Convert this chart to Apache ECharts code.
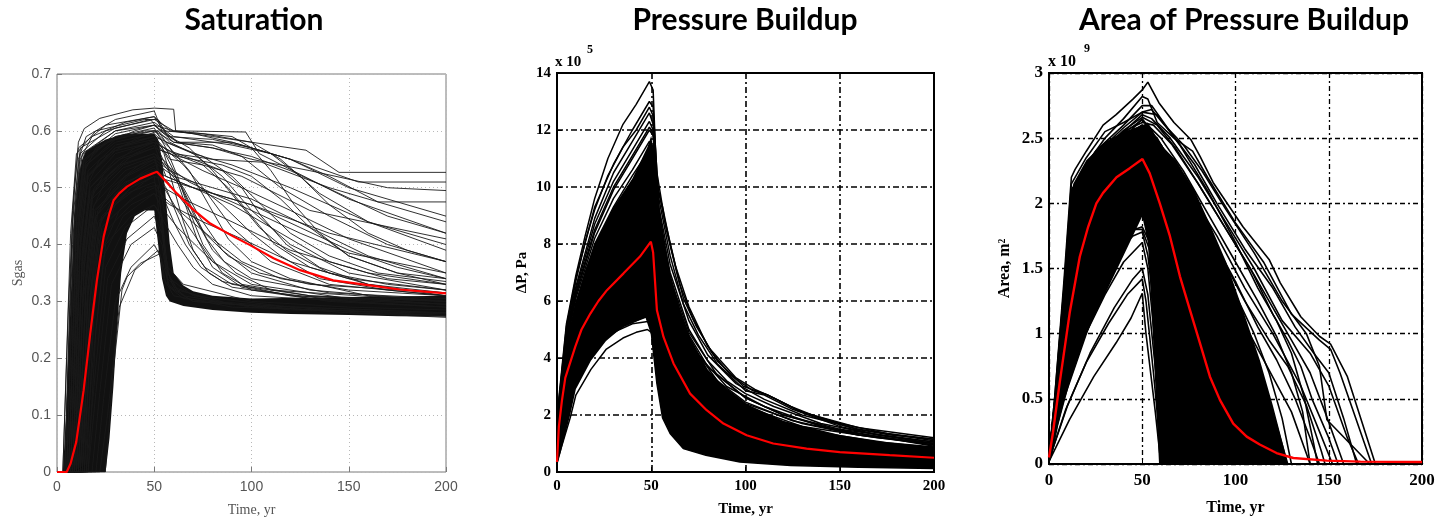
<!DOCTYPE html>
<html>
<head>
<meta charset="utf-8">
<script src="https://cdn.jsdelivr.net/npm/echarts@6/dist/echarts.min.js"></script>
<style>
  html, body { margin: 0; padding: 0; background: #fff; }
  #chart { width: 1440px; height: 523px; }
</style>
</head>
<body>
<div id="chart"></div>
<script>
// ---- axis ticks ----
const timeTicks = [0, 50, 100, 150, 200];
const satTicks = [0, 0.1, 0.2, 0.3, 0.4, 0.5, 0.6, 0.7];
const dpTicks = [0, 2, 4, 6, 8, 10, 12, 14];          // x 10^5 Pa
const areaTicks = [0, 0.5, 1, 1.5, 2, 2.5, 3];         // x 10^9 m^2

const panelTitles = ['Saturation', 'Pressure Buildup', 'Area of Pressure Buildup'];

// ---- Saturation: individual realizations [time yr, Sgas] ----
const satRuns = [
  [[0,0],[3,0],[6,0.3],[9,0.5],[11,0.58],[14,0.604],[22,0.622],[39,0.637],[50,0.64],[60,0.638],[61,0.6],[97,0.598],[104,0.56],[150,0.48],[200,0.42]],
  [[0,0],[4,0],[8,0.4],[11,0.55],[15,0.59],[30,0.62],[50,0.635],[54,0.6],[75,0.595],[100,0.58],[128,0.566],[145,0.527],[200,0.527]],
  [[0,0],[5,0],[9,0.42],[12,0.55],[18,0.59],[35,0.615],[50,0.625],[58,0.6],[70,0.595],[90,0.58],[110,0.56],[130,0.54],[155,0.51],[200,0.51]],
  [[0,0],[6,0],[10,0.38],[13,0.52],[20,0.57],[40,0.6],[50,0.61],[60,0.58],[80,0.57],[100,0.55],[130,0.53],[170,0.5],[200,0.495]],
  [[0,0],[7,0],[11,0.35],[15,0.5],[22,0.55],[40,0.585],[52,0.6],[60,0.56],[80,0.55],[105,0.545],[140,0.5],[200,0.44]],
  [[0,0],[8,0],[12,0.3],[16,0.47],[25,0.53],[40,0.57],[51,0.585],[58,0.55],[75,0.54],[95,0.52],[130,0.46],[200,0.41]],
  [[0,0],[9,0],[13,0.28],[18,0.46],[26,0.52],[40,0.56],[50,0.575],[56,0.52],[70,0.5],[100,0.47],[140,0.42],[200,0.37]],
  [[0,0],[10,0],[14,0.25],[19,0.44],[28,0.5],[42,0.54],[50,0.555],[55,0.5],[65,0.48],[90,0.44],[120,0.39],[160,0.35],[200,0.33]],
  [[0,0],[11,0],[15,0.22],[20,0.42],[30,0.49],[45,0.53],[51,0.54],[55,0.46],[62,0.43],[80,0.37],[100,0.33],[150,0.305],[200,0.295]],
  [[0,0],[12,0],[16,0.2],[21,0.4],[30,0.47],[45,0.51],[50,0.52],[53,0.44],[57,0.36],[65,0.33],[100,0.3],[150,0.29],[200,0.285]],
  [[0,0],[13,0],[17,0.2],[22,0.38],[32,0.46],[46,0.5],[52,0.505],[55,0.4],[58,0.34],[70,0.31],[120,0.29],[200,0.28]],
  [[0,0],[14,0],[18,0.18],[24,0.38],[34,0.45],[50,0.49],[53,0.47],[56,0.36],[60,0.325],[80,0.3],[140,0.285],[200,0.275]],
  [[0,0],[15,0],[19,0.15],[25,0.36],[35,0.43],[50,0.47],[54,0.45],[57,0.35],[62,0.32],[90,0.295],[200,0.28]],
  [[0,0],[16,0],[20,0.14],[26,0.34],[36,0.41],[50,0.45],[54,0.42],[57,0.34],[65,0.31],[100,0.29],[200,0.275]],
  [[0,0],[18,0],[22,0.14],[28,0.33],[38,0.4],[50,0.43],[54,0.4],[57,0.33],[70,0.3],[150,0.28],[200,0.272]],
  [[0,0],[20,0],[24,0.13],[30,0.3],[38,0.36],[50,0.4],[53,0.38],[56,0.33],[65,0.305],[120,0.285],[200,0.28]],
  [[0,0],[22,0],[26,0.1],[32,0.29],[40,0.355],[52,0.39],[55,0.36],[58,0.325],[70,0.3],[150,0.28],[200,0.275]],
  [[0,0],[24.8,0],[29,0.18],[33.4,0.32],[36,0.343],[42.8,0.367],[53,0.384],[55,0.34],[60,0.31],[90,0.29],[200,0.278]],
  [[0,0],[6,0],[10,0.42],[14,0.54],[25,0.58],[45,0.6],[52,0.6],[58,0.58],[70,0.56],[85,0.52],[100,0.46],[120,0.4],[150,0.35],[200,0.32]],
  [[0,0],[8,0],[12,0.4],[16,0.52],[30,0.57],[50,0.59],[55,0.57],[65,0.54],[75,0.5],[90,0.43],[110,0.37],[140,0.33],[200,0.31]],
  [[0,0],[9,0],[13,0.38],[17,0.5],[30,0.55],[50,0.58],[56,0.54],[65,0.5],[73,0.45],[85,0.39],[100,0.35],[130,0.32],[200,0.3]],
  [[0,0],[10,0],[14,0.36],[19,0.5],[35,0.55],[50,0.57],[58,0.56],[75,0.53],[95,0.5],[120,0.46],[150,0.41],[200,0.35]],
  [[0,0],[5,0],[9,0.45],[12,0.56],[25,0.6],[48,0.62],[53,0.6],[62,0.58],[80,0.575],[95,0.555],[115,0.5],[140,0.45],[170,0.4],[200,0.37]],
  [[0,0],[7,0],[11,0.44],[15,0.55],[30,0.59],[50,0.6],[56,0.58],[70,0.56],[90,0.54],[120,0.5],[160,0.44],[200,0.4]],
  [[0,0],[11,0],[15,0.33],[20,0.46],[35,0.52],[50,0.55],[55,0.5],[62,0.46],[70,0.42],[80,0.37],[95,0.33],[130,0.31],[200,0.295]],
  [[0,0],[12,0],[16,0.32],[21,0.46],[36,0.52],[50,0.545],[60,0.52],[80,0.5],[100,0.48],[130,0.43],[160,0.38],[200,0.34]],
  [[0,0],[4,0],[8,0.46],[11,0.57],[25,0.61],[50,0.625],[55,0.6],[62,0.58],[90,0.58],[120,0.55],[150,0.5],[200,0.45]],
  [[0,0],[13,0],[17,0.3],[23,0.45],[38,0.5],[50,0.53],[56,0.52],[70,0.5],[90,0.47],[110,0.43],[140,0.37],[170,0.34],[200,0.33]],
  [[0,0],[3,0],[7,0.42],[10,0.56],[20,0.6],[45,0.62],[52,0.62],[57,0.59],[80,0.585],[100,0.57],[120,0.55],[140,0.52],[165,0.475],[200,0.475]],
  [[0,0],[6,0],[10,0.45],[14,0.55],[30,0.59],[50,0.605],[56,0.57],[62,0.52],[68,0.46],[75,0.4],[85,0.35],[100,0.32],[150,0.3],[200,0.29]],
  [[0,0],[7,0],[11,0.43],[15,0.54],[30,0.58],[50,0.595],[58,0.57],[68,0.53],[78,0.47],[88,0.41],[100,0.37],[120,0.34],[160,0.31],[200,0.3]],
  [[0,0],[8,0],[12,0.4],[16,0.52],[30,0.565],[50,0.58],[60,0.56],[75,0.54],[88,0.5],[100,0.45],[112,0.4],[130,0.36],[160,0.33],[200,0.31]],
  [[0,0],[9,0],[13,0.38],[17,0.5],[32,0.55],[50,0.57],[62,0.555],[85,0.54],[100,0.52],[115,0.48],[130,0.43],[150,0.38],[175,0.35],[200,0.33]],
  [[0,0],[10,0],[14,0.37],[18,0.49],[34,0.54],[50,0.56],[55,0.54],[64,0.5],[72,0.44],[80,0.39],[92,0.35],[110,0.32],[200,0.3]],
  [[0,0],[5,0],[9,0.44],[13,0.56],[30,0.6],[50,0.615],[60,0.59],[90,0.575],[110,0.56],[125,0.52],[140,0.47],[160,0.42],[180,0.39],[200,0.37]],
  [[0,0],[11,0],[15,0.35],[19,0.47],[35,0.53],[50,0.55],[58,0.53],[70,0.51],[85,0.47],[100,0.42],[115,0.38],[135,0.34],[170,0.32],[200,0.31]],
  [[0,0],[12,0],[16,0.33],[20,0.45],[36,0.51],[50,0.535],[56,0.5],[62,0.45],[68,0.4],[76,0.36],[90,0.33],[130,0.31],[200,0.3]],
  [[0,0],[13,0],[17,0.31],[22,0.44],[38,0.5],[50,0.52],[60,0.51],[80,0.49],[100,0.47],[125,0.43],[150,0.39],[175,0.36],[200,0.34]],
  [[0,0],[14,0],[18,0.3],[23,0.43],[38,0.48],[50,0.5],[56,0.48],[66,0.45],[80,0.41],[95,0.37],[115,0.34],[150,0.32],[200,0.31]],
  [[0,0],[4,0],[8,0.44],[12,0.57],[30,0.605],[50,0.62],[60,0.6],[80,0.59],[100,0.58],[115,0.55],[135,0.49],[160,0.44],[200,0.39]],
  [[0,0],[15,0],[19,0.28],[24,0.42],[38,0.47],[50,0.49],[58,0.47],[75,0.44],[95,0.41],[120,0.37],[150,0.34],[200,0.32]],
  [[0,0],[9,0],[13,0.39],[17,0.51],[30,0.56],[50,0.58],[58,0.565],[70,0.55],[85,0.53],[95,0.5],[105,0.45],[118,0.4],[135,0.36],[160,0.33],[200,0.315]],
  [[0,0],[7,0],[11,0.42],[15,0.54],[30,0.585],[50,0.6],[60,0.58],[80,0.57],[100,0.555],[120,0.53],[145,0.49],[170,0.45],[200,0.42]],
  [[0,0],[10,0],[14,0.36],[18,0.48],[34,0.535],[50,0.555],[58,0.535],[68,0.51],[80,0.49],[100,0.46],[125,0.42],[150,0.385],[200,0.35]],
  [[0,0],[16,0],[20,0.25],[25,0.4],[38,0.45],[50,0.47],[55,0.44],[62,0.4],[70,0.36],[80,0.33],[100,0.31],[200,0.29]],
  [[0,0],[8,0],[12,0.41],[16,0.53],[30,0.575],[50,0.59],[54,0.57],[60,0.53],[66,0.47],[72,0.41],[80,0.36],[95,0.325],[140,0.3],[200,0.29]],
  [[0,0],[6,0],[10,0.44],[14,0.56],[30,0.6],[50,0.61],[60,0.6],[90,0.59],[100,0.57],[110,0.53],[122,0.47],[135,0.42],[150,0.38],[175,0.35],[200,0.34]],
  [[0,0],[7,0],[11,0.4],[15,0.52],[30,0.57],[50,0.585],[55,0.56],[60,0.5],[65,0.44],[70,0.39],[78,0.35],[90,0.325],[130,0.305],[200,0.295]],
  [[0,0],[9,0],[13,0.37],[17,0.49],[32,0.54],[50,0.56],[56,0.545],[63,0.51],[70,0.46],[77,0.41],[86,0.37],[100,0.34],[140,0.315],[200,0.305]],
  [[0,0],[11,0],[15,0.34],[19,0.46],[35,0.51],[50,0.53],[57,0.51],[66,0.47],[76,0.42],[88,0.38],[104,0.35],[130,0.33],[200,0.315]],
  [[0,0],[12,0],[16,0.31],[21,0.44],[36,0.49],[50,0.51],[55,0.48],[60,0.44],[66,0.4],[74,0.36],[85,0.335],[120,0.31],[200,0.3]],
  [[0,0],[6,0],[10,0.44],[14,0.55],[30,0.595],[50,0.61],[58,0.59],[68,0.57],[80,0.53],[92,0.48],[104,0.43],[118,0.39],[140,0.35],[170,0.33],[200,0.32]],
  [[0,0],[8,0],[12,0.4],[16,0.52],[30,0.57],[50,0.59],[60,0.575],[75,0.555],[90,0.52],[105,0.47],[120,0.42],[140,0.38],[165,0.35],[200,0.335]]
];
// ensemble mean saturation
const satMean = [[0,0],[5,0],[7,0.015],[9.9,0.053],[13.7,0.144],[17.1,0.244],[20.5,0.337],[24,0.414],[27,0.455],[29.1,0.478],[32,0.49],[36,0.502],[42.8,0.516],[49.7,0.526],[51.4,0.528],[55,0.515],[61.6,0.49],[70.2,0.461],[78.8,0.437],[90.8,0.414],[99.3,0.399],[111.3,0.376],[125,0.355],[142,0.337],[159,0.329],[176,0.321],[200,0.314]];
// outline of the solidly overlapped part of the ensemble
const satCore = [[3,0],[5,0.12],[7,0.3],[9,0.45],[11,0.52],[13,0.55],[15,0.565],[20,0.575],[25,0.585],[35,0.595],[50,0.595],[52,0.585],[54,0.55],[56,0.48],[58,0.4],[60,0.35],[65,0.328],[70,0.318],[80,0.31],[100,0.305],[150,0.308],[200,0.31],
  [200,0.273],[175,0.274],[150,0.276],[120,0.278],[100,0.28],[80,0.285],[65,0.292],[58,0.3],[56,0.31],[54,0.34],[52,0.4],[50,0.46],[45,0.46],[40,0.45],[36,0.42],[33,0.35],[31,0.26],[29,0.15],[27,0.06],[25,0]];

// ---- Pressure buildup: realizations [time yr, dP x 10^5 Pa] ----
const dpRuns = [
  [[0,0.3],[1,2.6],[5,5.2],[10,6.9],[15,8.3],[20,9.6],[27,11.0],[35,12.2],[42,12.9],[49,13.7],[51,13.4],[53,10.0],[56,9.3],[60,8.0],[67,6.1],[74,5.1],[85,3.9],[99,3.0],[110,2.75],[124,2.3],[141,1.85],[159,1.5],[177,1.3],[200,1.15]],
  [[0,0.3],[1,2.4],[5,5.0],[10,6.7],[15,8.1],[20,9.2],[27,10.4],[35,11.4],[42,12.0],[49,12.8],[51,12.5],[54,9.6],[60,7.6],[67,5.9],[75,4.8],[85,3.8],[100,2.85],[110,2.7],[125,2.2],[150,1.6],[175,1.25],[200,1.05]],
  [[0,0.3],[1,2.2],[5,4.8],[10,6.4],[20,8.7],[30,10.2],[40,11.3],[49,12.3],[51,12.0],[54,9.0],[60,7.0],[70,5.0],[80,3.9],[90,3.2],[100,2.75],[115,2.3],[140,1.7],[170,1.3],[200,1.0]],
  [[0,0.3],[1,2.0],[5,4.5],[10,6.1],[20,8.2],[30,9.6],[40,10.6],[49,11.6],[51,11.4],[54,8.4],[60,6.6],[70,4.8],[80,3.7],[100,2.6],[120,2.0],[150,1.45],[200,0.95]],
  [[0,0.3],[1,1.9],[5,4.2],[10,5.7],[20,7.6],[30,9.0],[40,10.1],[50,11.0],[53,8.6],[58,6.8],[65,5.3],[75,4.1],[90,3.0],[110,2.3],[140,1.6],[200,0.9]],
  [[0,0.3],[1,1.7],[5,4.0],[10,5.3],[20,7.0],[30,8.3],[40,9.4],[50,10.4],[53,8.0],[58,6.3],[65,4.9],[80,3.4],[100,2.4],[130,1.7],[160,1.3],[200,0.95]],
  [[0,0.3],[1,1.8],[5,4.3],[10,5.9],[20,7.8],[30,9.1],[40,10.0],[50,10.8],[52,10.0],[55,7.8],[60,6.0],[70,4.3],[80,3.3],[100,2.2],[130,1.5],[170,1.05],[200,0.85]],
  [[0,0.3],[1,1.5],[5,3.6],[10,4.8],[20,6.2],[30,7.1],[40,7.8],[50,8.4],[53,6.5],[57,4.8],[62,3.5],[70,2.5],[80,1.8],[100,1.2],[130,0.8],[160,0.6],[200,0.45]],
  [[0,0.3],[2,0.8],[7,1.9],[10,2.7],[18,3.6],[26,4.3],[35,4.7],[42,4.9],[48,5.0],[50,4.9],[53,3.1],[56,1.9],[60,1.35],[67,0.82],[79,0.59],[97,0.35],[124,0.23],[160,0.17],[200,0.12]],
  [[0,0.3],[2,1.2],[6,2.5],[10,3.2],[18,4.1],[26,4.7],[35,5.1],[45,5.4],[50,5.5],[53,3.5],[57,2.1],[62,1.4],[70,0.95],[85,0.62],[110,0.4],[150,0.28],[200,0.2]],
  [[0,0.3],[2,1.4],[6,2.8],[10,3.5],[20,4.5],[30,5.0],[40,5.4],[48,5.7],[50,5.6],[53,3.8],[57,2.4],[62,1.6],[70,1.1],[85,0.7],[110,0.45],[150,0.3],[200,0.22]],
  [[0,0.3],[1,2.3],[5,4.9],[10,6.5],[20,8.9],[30,10.5],[40,11.6],[49,12.6],[51,12.2],[54,9.3],[60,7.3],[70,5.3],[80,4.1],[95,3.1],[110,2.55],[130,2.0],[160,1.5],[200,1.1]],
  [[0,0.3],[1,2.1],[5,4.6],[10,6.2],[20,8.4],[30,9.9],[40,11.0],[49,12.0],[51,11.8],[54,8.8],[60,6.8],[70,4.9],[85,3.4],[100,2.6],[120,2.0],[150,1.5],[200,1.05]],
  [[0,0.3],[1,2.0],[5,4.4],[10,5.9],[20,8.0],[30,9.3],[40,10.4],[49,11.3],[51,11.1],[54,8.2],[60,6.4],[70,4.6],[85,3.2],[100,2.45],[125,1.8],[160,1.3],[200,1.0]],
  [[0,0.3],[1,2.5],[5,5.1],[10,6.8],[20,9.3],[30,10.8],[40,12.0],[49,13.0],[51,12.8],[53,10.5],[57,8.9],[63,7.2],[70,5.8],[80,4.4],[95,3.3],[105,2.9],[115,2.6],[130,2.1],[160,1.55],[200,1.2]],
  [[0,0.3],[1,1.8],[5,4.1],[10,5.5],[20,7.3],[30,8.6],[40,9.7],[50,10.7],[53,8.4],[58,6.5],[65,5.0],[80,3.3],[100,2.3],[130,1.6],[170,1.2],[200,1.0]],
  [[0,0.3],[1,2.2],[5,4.7],[10,6.3],[20,8.5],[30,10.0],[40,11.1],[49,12.1],[51,11.9],[53,10.2],[58,8.5],[65,6.6],[72,5.4],[82,4.2],[92,3.4],[104,2.85],[112,2.7],[128,2.15],[150,1.7],[175,1.35],[200,1.15]],
  [[0,0.3],[1,1.6],[5,3.8],[10,5.0],[20,6.6],[30,7.8],[40,8.8],[50,9.6],[53,7.5],[58,5.6],[65,4.2],[75,3.0],[90,2.1],[110,1.5],[140,1.1],[200,0.75]],
  [[0,0.3],[2,1.3],[6,2.7],[10,3.4],[20,4.4],[30,4.9],[40,5.2],[50,5.3],[52,4.4],[55,3.0],[60,1.9],[68,1.2],[80,0.8],[100,0.5],[140,0.33],[200,0.22]],
  [[0,0.3],[2,1.5],[6,3.0],[10,3.8],[20,4.8],[30,5.4],[40,5.8],[50,6.0],[52,5.0],[55,3.4],[60,2.2],[70,1.3],[85,0.85],[110,0.55],[150,0.38],[200,0.28]]
];
const dpMean = [[0,0.35],[1,1.6],[2.6,2.5],[4.4,3.3],[9.7,4.4],[13,5.0],[17.7,5.56],[22,6.0],[26.5,6.38],[35.3,6.97],[44,7.56],[49.8,8.08],[51,7.7],[53,5.68],[56.5,4.74],[61.8,3.81],[70.6,2.75],[79.4,2.17],[88.3,1.7],[100.6,1.29],[114.7,1.0],[132.4,0.82],[150,0.7],[176.5,0.59],[200,0.5]];
const dpCore = [[0,0.3],[1,1.8],[3,3.5],[5,4.4],[10,6.0],[15,7.1],[20,8.0],[30,9.3],[40,10.3],[48,11.4],[50,11.8],[52,10.8],[55,9.0],[60,7.0],[65,5.8],[70,4.8],[80,3.6],[90,2.9],[100,2.4],[120,1.8],[150,1.3],[175,1.05],[200,0.9],
  [200,0.12],[160,0.17],[124,0.23],[97,0.35],[79,0.59],[67,0.82],[60,1.35],[56,1.9],[53,3.1],[50,4.8],[47,5.4],[35,5.1],[26,4.6],[18,3.9],[10,2.9],[7,2.0],[2,0.7],[0,0.3]];

// ---- Area of pressure buildup: realizations [time yr, area x 10^9 m^2] ----
const areaRuns = [
  [[0,0.05],[3,0.5],[8,1.4],[12,2.2],[14,2.26],[20,2.4],[29,2.6],[36,2.68],[45,2.8],[50,2.87],[53,2.93],[59,2.77],[67,2.62],[76,2.49],[81,2.36],[88,2.16],[104,1.82],[118,1.57],[124,1.39],[135,1.13],[145,0.98],[151,0.92],[160,0.67],[175,0]],
  [[0,0.05],[3,0.45],[8,1.3],[12,2.05],[20,2.3],[30,2.5],[40,2.65],[50,2.82],[53,2.8],[58,2.62],[67,2.5],[77,2.4],[85,2.2],[100,1.85],[115,1.55],[130,1.15],[145,0.95],[151,0.88],[156,0.7],[173,0]],
  [[0,0.05],[3,0.5],[8,1.35],[12,2.15],[20,2.35],[30,2.55],[40,2.62],[50,2.7],[55,2.72],[62,2.6],[72,2.45],[82,2.25],[95,1.95],[110,1.62],[125,1.25],[138,1.0],[145,0.75],[149,0.34],[172,0]],
  [[0,0.05],[4,0.6],[9,1.5],[12,2.1],[25,2.35],[40,2.55],[50,2.68],[55,2.65],[65,2.5],[80,2.2],[95,1.85],[110,1.5],[125,1.1],[140,0.85],[150,0.6],[160,0.2],[166,0]],
  [[0,0.05],[4,0.55],[9,1.45],[12,2.0],[25,2.3],[40,2.5],[50,2.65],[60,2.45],[75,2.1],[90,1.75],[105,1.35],[120,1.0],[135,0.6],[145,0.25],[152,0]],
  [[0,0.05],[5,0.6],[10,1.5],[13,2.05],[25,2.3],[40,2.48],[50,2.6],[60,2.3],[75,1.9],[90,1.5],[100,1.2],[115,0.8],[130,0.4],[140,0]],
  [[0,0.05],[5,0.55],[10,1.4],[13,1.95],[25,2.25],[40,2.45],[50,2.55],[58,2.2],[70,1.6],[85,1.0],[100,0.5],[112,0]],
  [[0,0.02],[11,0.34],[24,0.67],[36,0.93],[44,1.12],[50,1.31],[52,1.0],[57,0.4],[60,0]],
  [[0,0.03],[10,0.45],[22,0.85],[35,1.2],[45,1.42],[50,1.5],[53,1.3],[58,0.6],[62,0]],
  [[0,0.05],[8,0.5],[20,1.0],[32,1.45],[42,1.78],[50,1.82],[54,1.7],[60,1.1],[66,0.4],[70,0]],
  [[0,0.05],[6,0.6],[15,1.2],[25,1.6],[35,1.75],[42,1.8],[50,1.8],[55,1.6],[62,1.0],[72,0.3],[76,0]],
  [[0,0.05],[5,0.7],[12,1.35],[22,1.75],[35,1.95],[50,1.95],[55,1.75],[65,1.2],[80,0.6],[95,0]],
  [[0,0.05],[4,0.55],[9,1.45],[12,2.05],[25,2.35],[40,2.55],[50,2.62],[56,2.6],[66,2.45],[80,2.15],[95,1.8],[110,1.45],[120,1.2],[130,0.95],[140,0.7],[148,0.4],[158,0]],
  [[0,0.05],[4,0.55],[9,1.4],[12,2.0],[25,2.3],[40,2.52],[50,2.6],[58,2.5],[70,2.2],[85,1.8],[100,1.4],[112,1.05],[122,0.8],[132,0.5],[140,0.2],[145,0]],
  [[0,0.05],[5,0.6],[10,1.45],[13,2.0],[25,2.28],[40,2.45],[50,2.55],[60,2.25],[72,1.85],[85,1.45],[98,1.05],[110,0.7],[120,0.4],[128,0]],
  [[0,0.05],[5,0.55],[10,1.4],[13,1.95],[25,2.2],[40,2.4],[50,2.5],[58,2.15],[68,1.7],[80,1.2],[92,0.75],[102,0.35],[108,0]],
  [[0,0.05],[5,0.5],[10,1.35],[13,1.9],[25,2.15],[40,2.35],[50,2.45],[57,2.0],[65,1.45],[75,0.9],[85,0.4],[92,0]],
  [[0,0.05],[5,0.5],[10,1.3],[13,1.85],[25,2.1],[40,2.3],[50,2.4],[56,1.9],[63,1.2],[70,0.6],[78,0]],
  [[0,0.05],[4,0.6],[9,1.5],[12,2.1],[25,2.4],[40,2.6],[50,2.75],[55,2.75],[65,2.55],[78,2.3],[90,2.0],[105,1.65],[120,1.35],[132,1.05],[142,0.85],[150,0.7],[158,0.35],[165,0]],
  [[0,0.05],[4,0.55],[9,1.45],[12,2.05],[25,2.32],[40,2.5],[50,2.6],[60,2.45],[75,2.05],[90,1.65],[105,1.25],[118,0.95],[128,0.75],[138,0.45],[146,0.1],[148,0]],
  [[0,0.05],[4,0.6],[9,1.5],[12,2.1],[25,2.38],[40,2.58],[50,2.7],[58,2.68],[70,2.45],[85,2.1],[100,1.7],[112,1.35],[122,1.1],[130,0.85],[137,0.5],[142,0.15],[144,0]],
  [[0,0.05],[4,0.55],[9,1.45],[12,2.05],[25,2.3],[40,2.5],[50,2.58],[60,2.4],[72,2.1],[86,1.72],[100,1.3],[110,1.0],[118,0.7],[125,0.35],[130,0]],
  [[0,0.05],[5,0.55],[10,1.4],[13,1.95],[25,2.25],[40,2.45],[50,2.52],[60,2.3],[75,1.85],[88,1.4],[100,1.0],[108,0.65],[115,0.3],[119,0]],
  [[0,0.05],[4,0.6],[9,1.5],[12,2.08],[25,2.36],[40,2.56],[50,2.66],[58,2.6],[68,2.42],[80,2.15],[95,1.8],[108,1.5],[120,1.15],[128,0.95],[135,0.75],[141,0.5],[150,0.2],[155,0]],
  [[0,0.05],[4,0.58],[9,1.48],[12,2.06],[25,2.34],[40,2.54],[50,2.64],[60,2.5],[72,2.25],[86,1.9],[100,1.55],[112,1.25],[122,0.98],[130,0.7],[136,0.4],[140,0]],
  [[0,0.05],[6,0.55],[15,1.05],[25,1.4],[35,1.6],[45,1.75],[50,1.78],[53,1.6],[58,1.0],[63,0.4],[66,0]],
  [[0,0.05],[7,0.5],[18,0.95],[30,1.3],[40,1.55],[50,1.7],[53,1.5],[57,0.9],[61,0.3],[63,0]],
  [[0,0.03],[9,0.42],[20,0.78],[32,1.08],[42,1.3],[50,1.42],[52,1.25],[56,0.7],[60,0.1],[61,0]]
];
const areaMean = [[0,0.05],[2.1,0.24],[5.7,0.62],[11.1,1.16],[16.5,1.59],[21,1.82],[25.4,2.0],[29,2.08],[36.2,2.2],[43.3,2.27],[50.1,2.34],[54,2.23],[59.4,2.0],[64.8,1.75],[70.2,1.44],[75.6,1.18],[80.9,0.93],[86.3,0.67],[91.7,0.49],[98.8,0.31],[106,0.21],[113,0.15],[122,0.084],[131,0.046],[149,0.026],[167,0.018],[200,0.015]];
const areaCore = [[0,0],[2,0.3],[5,0.9],[8,1.4],[11,2.0],[13,2.15],[20,2.33],[30,2.47],[40,2.55],[50,2.6],[53,2.62],[60,2.45],[68,2.33],[78,2.1],[86,1.85],[95,1.55],[104,1.18],[113,0.8],[120,0.45],[126,0.12],[128,0],
  [59,0],[57,0.6],[55,1.2],[53,1.7],[50,1.9],[40,1.6],[30,1.3],[20,1.0],[11,0.62],[5,0.3],[2,0.08]];

// ---- panel layout and look ----
const panels = [
  { left: 57, top: 74, width: 389, height: 398, ticks: satTicks, runs: satRuns, mean: satMean, core: satCore,
    border: '#7a7a7a', borderWidth: 1, split: { color: '#b8b8b8', width: 1, type: [1, 3] },
    label: { color: '#555', fontFamily: 'Liberation Sans', fontSize: 14 },
    xName: 'Time, yr', yName: 'Sgas', nameStyle: { color: '#555', fontFamily: 'Liberation Serif', fontSize: 14 },
    xGap: 31, yGap: 32, xMargin: 8, runWidth: 0.9, meanWidth: 2.2, runColor: '#1a1a1a', coreColor: '#111' },
  { left: 557, top: 73, width: 377, height: 399, ticks: dpTicks, runs: dpRuns, mean: dpMean, core: dpCore,
    border: '#000', borderWidth: 2, split: { color: '#000', width: 1.6, type: [6, 3, 2, 3] },
    label: { color: '#000', fontFamily: 'Liberation Serif', fontWeight: 'bold', fontSize: 15 },
    xName: 'Time, yr', yName: 'ΔP, Pa', nameStyle: { color: '#000', fontFamily: 'Liberation Serif', fontWeight: 'bold', fontSize: 15 },
    xGap: 30, yGap: 27, xMargin: 7, runWidth: 1.5, meanWidth: 2.2, runColor: '#000', coreColor: '#000' },
  { left: 1049, top: 73, width: 373, height: 391, ticks: areaTicks, runs: areaRuns, mean: areaMean, core: areaCore,
    border: '#000', borderWidth: 2, split: { color: '#000', width: 1.3, type: [5, 3, 2, 3] },
    label: { color: '#000', fontFamily: 'Liberation Serif', fontWeight: 'bold', fontSize: 17 },
    xName: 'Time, yr', yName: 'Area, m²', nameStyle: { color: '#000', fontFamily: 'Liberation Serif', fontWeight: 'bold', fontSize: 16 },
    xGap: 36, yGap: 36, xMargin: 8, runWidth: 1.6, meanWidth: 2.4, runColor: '#000', coreColor: '#000' }
];

const grids = [], xAxes = [], yAxes = [], series = [];

function polygonSeries(points, idx, fill, z) {
  return {
    type: 'custom', xAxisIndex: idx, yAxisIndex: idx, silent: true, clip: true, z: z,
    data: [[0, 0]], encode: { x: 0, y: 1 },
    renderItem: (params, api) => ({
      type: 'polygon',
      shape: { points: points.map(p => api.coord(p)) },
      style: { fill: fill }
    })
  };
}

panels.forEach((p, i) => {
  grids.push({ left: p.left, top: p.top, width: p.width, height: p.height, show: true,
               borderColor: p.border, borderWidth: p.borderWidth, backgroundColor: 'transparent', containLabel: false });
  xAxes.push({
    type: 'value', gridIndex: i,
    min: timeTicks[0], max: timeTicks[timeTicks.length - 1], interval: timeTicks[1] - timeTicks[0],
    axisLine: { show: false },
    axisTick: { show: true, inside: true, length: 5, lineStyle: { color: p.border, width: 1 } },
    axisLabel: Object.assign({ margin: p.xMargin }, p.label),
    splitLine: { show: true, lineStyle: p.split },
    name: p.xName, nameLocation: 'middle', nameGap: p.xGap, nameTextStyle: p.nameStyle
  });
  yAxes.push({
    type: 'value', gridIndex: i,
    min: p.ticks[0], max: p.ticks[p.ticks.length - 1], interval: p.ticks[1] - p.ticks[0],
    axisLine: { show: false },
    axisTick: { show: true, inside: true, length: 5, lineStyle: { color: p.border, width: 1 } },
    axisLabel: Object.assign({ margin: 6 }, p.label),
    splitLine: { show: true, lineStyle: p.split },
    name: p.yName, nameLocation: 'middle', nameGap: p.yGap, nameRotate: 90, nameTextStyle: p.nameStyle
  });
  series.push(polygonSeries(p.core, i, p.coreColor, 2));
  p.runs.forEach(run => {
    series.push({ type: 'line', xAxisIndex: i, yAxisIndex: i, data: run, symbol: 'none', silent: true, z: 3,
                  lineStyle: { color: p.runColor, width: p.runWidth } });
  });
  series.push({ type: 'line', xAxisIndex: i, yAxisIndex: i, data: p.mean, symbol: 'none', silent: true, z: 5,
                lineStyle: { color: '#f00', width: p.meanWidth } });
});

const titleFont = 'bold 30px Lato';
const graphics = [
  { type: 'text', x: 254, y: 20, style: { text: panelTitles[0], font: titleFont, fill: '#000', align: 'center', verticalAlign: 'middle' } },
  { type: 'text', x: 745, y: 20, style: { text: panelTitles[1], font: titleFont, fill: '#000', align: 'center', verticalAlign: 'middle' } },
  { type: 'text', x: 1244, y: 20, style: { text: panelTitles[2], font: titleFont, fill: '#000', align: 'center', verticalAlign: 'middle' } },
  // axis multipliers
  { type: 'text', x: 555, y: 62, style: { text: 'x 10', font: 'bold 15px "Liberation Serif"', fill: '#000', align: 'left', verticalAlign: 'middle' } },
  { type: 'text', x: 587, y: 50, style: { text: '5', font: 'bold 12px "Liberation Serif"', fill: '#000', align: 'left', verticalAlign: 'middle' } },
  { type: 'text', x: 1048, y: 62, style: { text: 'x 10', font: 'bold 16px "Liberation Serif"', fill: '#000', align: 'left', verticalAlign: 'middle' } },
  { type: 'text', x: 1084, y: 49, style: { text: '9', font: 'bold 12px "Liberation Serif"', fill: '#000', align: 'left', verticalAlign: 'middle' } }
];

const chart = echarts.init(document.getElementById('chart'), null, { renderer: 'canvas' });
chart.setOption({
  animation: false,
  backgroundColor: '#fff',
  grid: grids,
  xAxis: xAxes,
  yAxis: yAxes,
  series: series,
  graphic: graphics
});
</script>
</body>
</html>
